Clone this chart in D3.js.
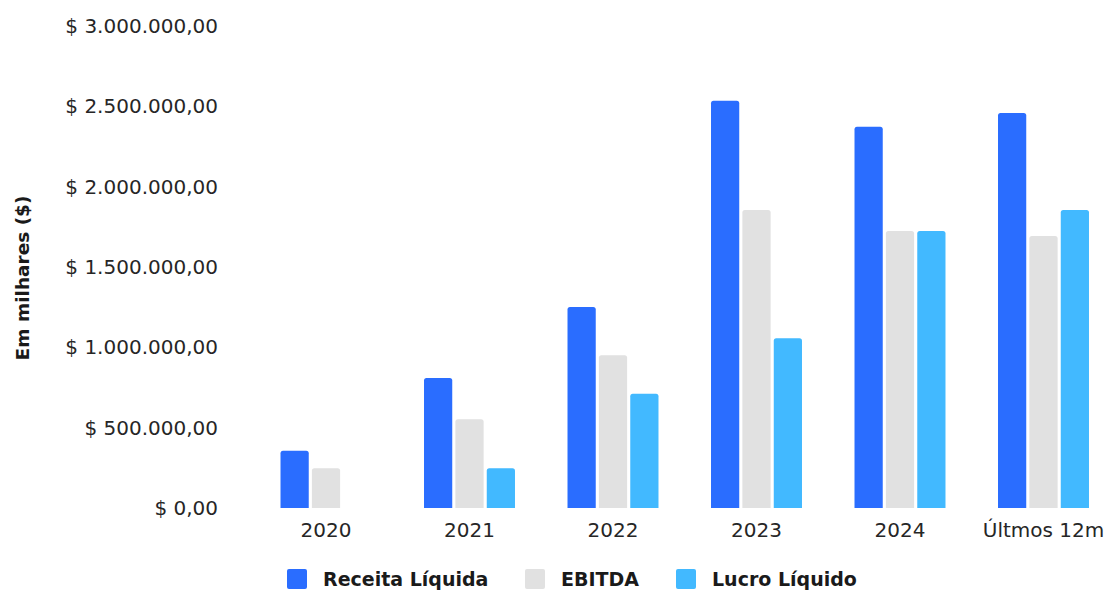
<!DOCTYPE html>
<html><head><meta charset="utf-8">
<script src="https://cdn.jsdelivr.net/npm/d3@7"></script>
<style>
html,body{margin:0;padding:0;background:#fff;}
text{font-family:"DejaVu Sans",sans-serif;}
</style></head>
<body>
<svg id="c" width="1106" height="590"></svg>
<script>
const categories = ["2020","2021","2022","2023","2024","Últmos 12m"];
const seriesNames = ["Receita Líquida","EBITDA","Lucro Líquido"];
const receita = [357000, 809000, 1251000, 2535000, 2373000, 2458000];
const ebitda  = [247000, 552000, 950000, 1855000, 1724000, 1693000];
const lucro   = [0, 247000, 711000, 1056000, 1724000, 1855000];
const yTicks = [0, 500000, 1000000, 1500000, 2000000, 2500000, 3000000];
const colors = ["#2a6dff", "#e1e1e1", "#42b9ff"];

const values = [receita, ebitda, lucro];
const svg = d3.select("#c");

const y = d3.scaleLinear().domain([0, 3000000]).range([508, 26]);
const x0 = d3.scaleBand().domain(categories).range([254.25, 1115.25])
  .paddingInner(0.366).paddingOuter(0.183);
const x1 = d3.scaleBand().domain(seriesNames).range([0, x0.bandwidth()]).paddingInner(0.1);

const fmt = v => "$ " + d3.format(",.2f")(v).replace(/,/g, "#").replace(/\./g, ",").replace(/#/g, ".");

// y axis
const yAxis = d3.axisLeft(y).tickValues(yTicks).tickSize(0).tickPadding(0).tickFormat(fmt);
const gy = svg.append("g").attr("transform", "translate(218,0)").call(yAxis);
gy.select(".domain").remove();
gy.selectAll("text").attr("font-size", 20).attr("fill", "#262626")
  .attr("font-family", "DejaVu Sans, sans-serif");

// x axis
const xAxis = d3.axisBottom(x0).tickSize(0).tickPadding(0);
const gx = svg.append("g").attr("transform", "translate(0,523)").call(xAxis);
gx.select(".domain").remove();
gx.selectAll("text").attr("font-size", 20).attr("fill", "#262626")
  .attr("font-family", "DejaVu Sans, sans-serif");

// y title
svg.append("text")
  .attr("transform", "translate(29,278) rotate(-90)")
  .attr("text-anchor", "middle")
  .attr("font-size", 18.5).attr("font-weight", "bold").attr("fill", "#1a1a1a")
  .text("Em milhares ($)");

// bars with rounded top corners
function barPath(xp, w, yt, yb, r) {
  const h = yb - yt;
  if (h <= 0) return "";
  r = Math.min(r, h, w / 2);
  return `M${xp},${yb}V${yt + r}Q${xp},${yt} ${xp + r},${yt}H${xp + w - r}Q${xp + w},${yt} ${xp + w},${yt + r}V${yb}Z`;
}

const data = [];
categories.forEach((c, i) => seriesNames.forEach((s, j) => data.push({c, s, j, v: values[j][i]})));

svg.append("g").selectAll("path").data(data.filter(d => d.v > 0)).join("path")
  .attr("d", d => barPath(x0(d.c) + x1(d.s), x1.bandwidth(), y(d.v), y(0), 2.5))
  .attr("fill", d => colors[d.j]);

// legend
const legX = [287, 525, 676];
const leg = svg.append("g");
seriesNames.forEach((s, j) => {
  leg.append("rect").attr("x", legX[j]).attr("y", 569).attr("width", 20).attr("height", 20)
    .attr("rx", 2).attr("fill", colors[j]);
  leg.append("text").attr("x", legX[j] + 36).attr("y", 586)
    .attr("font-size", 19).attr("font-weight", "bold").attr("fill", "#1a1a1a").text(s);
});
</script>
</body></html>
